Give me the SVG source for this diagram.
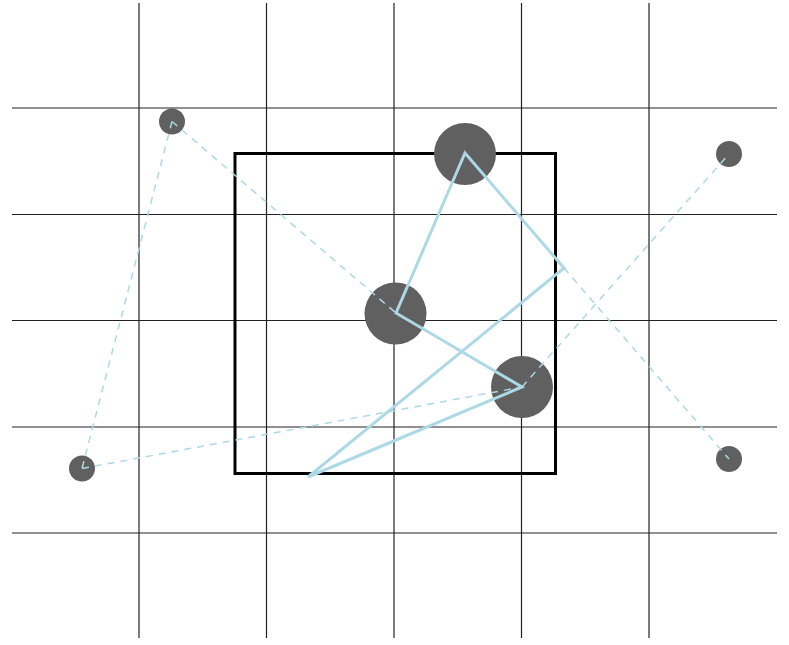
<svg xmlns="http://www.w3.org/2000/svg" width="789" height="645" viewBox="0 0 789 645">
<style>
.grid{stroke:#222;stroke-width:1.2;fill:none}
.frame{stroke:#000;stroke-width:3;fill:none}
.node{fill:#606060}
.solid{stroke:#add8e6;stroke-width:3;fill:none;stroke-linejoin:miter}
.dash{stroke:#add8e6;stroke-width:1.5;fill:none;stroke-dasharray:7,6}
</style>
<rect width="789" height="645" fill="#fff"/>
<g id="grid">
<line class="grid" x1="139" y1="3" x2="139" y2="638"/>
<line class="grid" x1="266.5" y1="3" x2="266.5" y2="638"/>
<line class="grid" x1="394" y1="3" x2="394" y2="638"/>
<line class="grid" x1="521.5" y1="3" x2="521.5" y2="638"/>
<line class="grid" x1="649" y1="3" x2="649" y2="638"/>
<line class="grid" x1="12" y1="108" x2="777" y2="108"/>
<line class="grid" x1="12" y1="214.5" x2="777" y2="214.5"/>
<line class="grid" x1="12" y1="320.5" x2="777" y2="320.5"/>
<line class="grid" x1="12" y1="427" x2="777" y2="427"/>
<line class="grid" x1="12" y1="533" x2="777" y2="533"/>
</g>
<rect id="frame" class="frame" x="235" y="153.5" width="320.5" height="320"/>
<g id="n1"><circle class="node" cx="465" cy="154" r="31"/></g>
<g id="n2"><circle class="node" cx="395.5" cy="313.5" r="31"/></g>
<g id="n3"><circle class="node" cx="522" cy="387" r="31"/></g>
<g id="n4"><circle class="node" cx="172" cy="121.5" r="13"/></g>
<g id="n5"><circle class="node" cx="729" cy="154" r="13"/></g>
<g id="n6"><circle class="node" cx="82" cy="468.5" r="13"/></g>
<g id="n7"><circle class="node" cx="729" cy="459" r="13"/></g>
<g id="connectors">
<polygon class="solid" points="396,313 465,153 564,268 308,477 522,387"/>
<line class="dash" x1="172" y1="121.5" x2="396" y2="313"/>
<line class="dash" x1="172" y1="121.5" x2="82" y2="468.5"/>
<line class="dash" x1="82" y1="468.5" x2="522" y2="387"/>
<line class="dash" x1="522" y1="387" x2="729" y2="154"/>
<line class="dash" x1="564" y1="268" x2="729" y2="459"/>
</g>
</svg>
